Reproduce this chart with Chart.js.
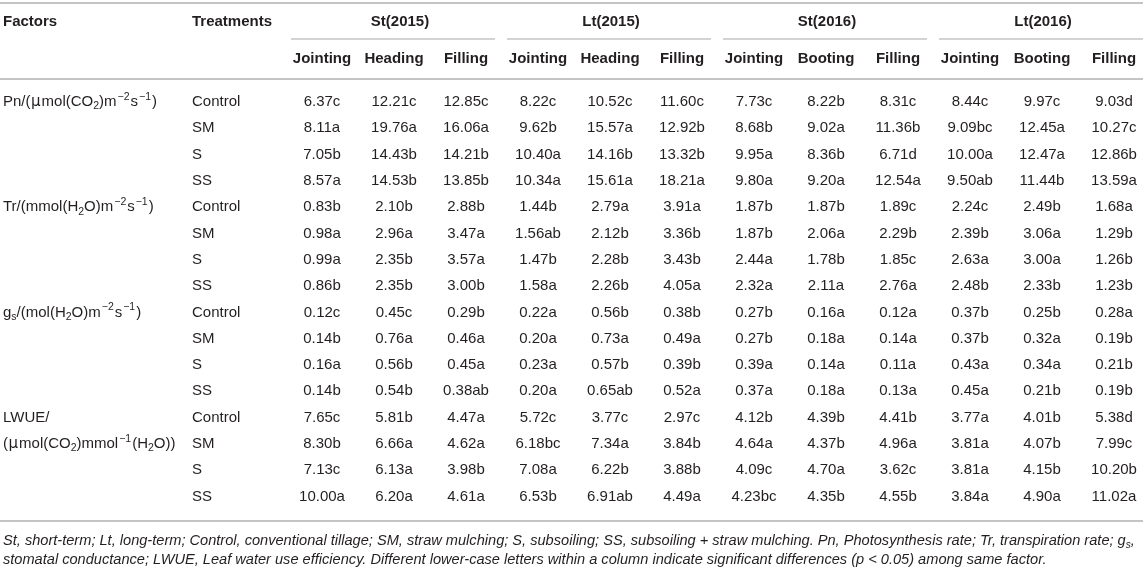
<!DOCTYPE html>
<html><head><meta charset="utf-8">
<script src="https://cdn.jsdelivr.net/npm/chart.js@4"></script>
<style>html,body{margin:0;padding:0;background:#fff}#wrap{width:1143px;height:575px;position:relative}</style>
</head><body><div id="wrap"><canvas id="c"></canvas></div>
<script>
// ---------- data ----------
const groups = ["St(2015)", "Lt(2015)", "St(2016)", "Lt(2016)"];
const stages = ["Jointing","Heading","Filling","Jointing","Heading","Filling","Jointing","Booting","Filling","Jointing","Booting","Filling"];
const treatments = ["Control", "SM", "S", "SS"];
const factorLabels = [
  ["Pn/(μmol(CO_{2})m^{−2}s^{−1})"],
  ["Tr/(mmol(H_{2}O)m^{−2}s^{−1})"],
  ["g_{s}/(mol(H_{2}O)m^{−2}s^{−1})"],
  ["LWUE/", "(μmol(CO_{2})mmol^{−1}(H_{2}O))"]
];
const pn = [
  ["6.37c","12.21c","12.85c","8.22c","10.52c","11.60c","7.73c","8.22b","8.31c","8.44c","9.97c","9.03d"],
  ["8.11a","19.76a","16.06a","9.62b","15.57a","12.92b","8.68b","9.02a","11.36b","9.09bc","12.45a","10.27c"],
  ["7.05b","14.43b","14.21b","10.40a","14.16b","13.32b","9.95a","8.36b","6.71d","10.00a","12.47a","12.86b"],
  ["8.57a","14.53b","13.85b","10.34a","15.61a","18.21a","9.80a","9.20a","12.54a","9.50ab","11.44b","13.59a"]
];
const tr = [
  ["0.83b","2.10b","2.88b","1.44b","2.79a","3.91a","1.87b","1.87b","1.89c","2.24c","2.49b","1.68a"],
  ["0.98a","2.96a","3.47a","1.56ab","2.12b","3.36b","1.87b","2.06a","2.29b","2.39b","3.06a","1.29b"],
  ["0.99a","2.35b","3.57a","1.47b","2.28b","3.43b","2.44a","1.78b","1.85c","2.63a","3.00a","1.26b"],
  ["0.86b","2.35b","3.00b","1.58a","2.26b","4.05a","2.32a","2.11a","2.76a","2.48b","2.33b","1.23b"]
];
const gs = [
  ["0.12c","0.45c","0.29b","0.22a","0.56b","0.38b","0.27b","0.16a","0.12a","0.37b","0.25b","0.28a"],
  ["0.14b","0.76a","0.46a","0.20a","0.73a","0.49a","0.27b","0.18a","0.14a","0.37b","0.32a","0.19b"],
  ["0.16a","0.56b","0.45a","0.23a","0.57b","0.39b","0.39a","0.14a","0.11a","0.43a","0.34a","0.21b"],
  ["0.14b","0.54b","0.38ab","0.20a","0.65ab","0.52a","0.37a","0.18a","0.13a","0.45a","0.21b","0.19b"]
];
const lwue = [
  ["7.65c","5.81b","4.47a","5.72c","3.77c","2.97c","4.12b","4.39b","4.41b","3.77a","4.01b","5.38d"],
  ["8.30b","6.66a","4.62a","6.18bc","7.34a","3.84b","4.64a","4.37b","4.96a","3.81a","4.07b","7.99c"],
  ["7.13c","6.13a","3.98b","7.08a","6.22b","3.88b","4.09c","4.70a","3.62c","3.81a","4.15b","10.20b"],
  ["10.00a","6.20a","4.61a","6.53b","6.91ab","4.49a","4.23bc","4.35b","4.55b","3.84a","4.90a","11.02a"]
];
const notes = [
  "St, short-term; Lt, long-term; Control, conventional tillage; SM, straw mulching; S, subsoiling; SS, subsoiling + straw mulching. Pn, Photosynthesis rate; Tr, transpiration rate; g_{s},",
  "stomatal conductance; LWUE, Leaf water use efficiency. Different lower-case letters within a column indicate significant differences (p < 0.05) among same factor."
];

// ---------- style / layout ----------
const FONT = "'Liberation Sans', Arial, Helvetica, sans-serif";
const MUFONT = "'DejaVu Sans', 'Liberation Sans', sans-serif";
const TEXT = "#231f20";
const RULE = "#c4c4c4";
const L = { factorX: 3, treatX: 192, topLine: 3, groupRow: 22, groupLine: 39, stageRow: 59, headLine: 79, bottomLine: 521, note1: 541, note2: 560 };

const factorData = [pn, tr, gs, lwue];
const datasets = factorData.map((tbl, f) => ({
  label: factorLabels[f].join(' '),
  data: tbl.flatMap((row, t) => row.map((v, c) => ({ x: c, y: f * 4 + t, v }))),
  pointRadius: 0, pointHoverRadius: 0, showLine: false
}));

function parseRich(s) {
  const segs = []; let i = 0; let buf = '';
  const flush = () => { if (buf) { segs.push({ t: buf, m: 'n' }); buf = ''; } };
  while (i < s.length) {
    if ((s[i] === '_' || s[i] === '^') && s[i + 1] === '{') {
      flush();
      const end = s.indexOf('}', i);
      segs.push({ t: s.slice(i + 2, end), m: s[i] === '_' ? 'sub' : 'sup' });
      i = end + 1;
    } else if (s[i] === 'μ') {
      flush(); segs.push({ t: 'μ', m: 'mu' }); i++;
    } else { buf += s[i]; i++; }
  }
  flush();
  return segs;
}
function drawRich(ctx, s, x, y, align, size, weight, style) {
  const segs = parseRich(s);
  const small = Math.round(size * 0.7 * 10) / 10;
  const fnt = (m) => {
    const st = style || 'normal', wt = weight || 'normal';
    if (m === 'mu') return `${st} ${wt} ${size}px ${MUFONT}`;
    return `${st} ${wt} ${m === 'n' ? size : small}px ${FONT}`;
  };
  const padFor = (m) => (m === 'sup' ? [1, 1] : m === 'mu' ? [0.5, 1] : [0, 0]);
  let w = 0;
  segs.forEach(sg => {
    ctx.font = fnt(sg.m);
    const p = size >= 15 ? padFor(sg.m) : [0, 0];
    sg.p = p; sg.w = ctx.measureText(sg.t).width; w += sg.w + p[0] + p[1];
  });
  let cx = align === 'center' ? x - w / 2 : align === 'right' ? x - w : x;
  ctx.textAlign = 'left'; ctx.textBaseline = 'middle'; ctx.fillStyle = TEXT;
  segs.forEach(sg => {
    ctx.font = fnt(sg.m);
    const dy = sg.m === 'sub' ? size * 0.3 : sg.m === 'sup' ? -size * 0.33 : sg.m === 'mu' ? 0.5 : 0;
    cx += sg.p[0];
    ctx.fillText(sg.t, cx, y + dy);
    cx += sg.w + sg.p[1];
  });
}

const tablePlugin = {
  id: 'table',
  beforeDraw(chart) {
    const { ctx, width, height } = chart;
    ctx.save(); ctx.fillStyle = '#fff'; ctx.fillRect(0, 0, width, height); ctx.restore();
  },
  afterDatasetsDraw(chart) {
    const { ctx, width } = chart;
    const xs = chart.scales.x, ys = chart.scales.y;
    ctx.save();
    const hline = (x1, x2, yy, lw) => {
      ctx.strokeStyle = RULE; ctx.lineWidth = lw || 1.6;
      ctx.beginPath(); ctx.moveTo(Math.max(0, x1), yy); ctx.lineTo(Math.min(width, x2), yy); ctx.stroke();
    };
    hline(0, width, L.topLine, 2);
    hline(0, width, L.headLine, 2);
    hline(0, width, L.bottomLine, 2);
    groups.forEach((g, gi) => {
      const a = xs.getPixelForValue(gi * 3), b = xs.getPixelForValue(gi * 3 + 2), m = xs.getPixelForValue(gi * 3 + 1);
      hline(a - 31, b + 29, L.groupLine, 1.6);
      drawRich(ctx, g, m + (gi === 0 ? 6 : 1), L.groupRow, 'center', 15, 'bold');
    });
    drawRich(ctx, 'Factors', L.factorX, L.groupRow, 'left', 15, 'bold');
    drawRich(ctx, 'Treatments', L.treatX, L.groupRow, 'left', 15, 'bold');
    stages.forEach((s, c) => drawRich(ctx, s, xs.getPixelForValue(c), L.stageRow, 'center', 15, 'bold'));
    factorLabels.forEach((lines, f) => {
      lines.forEach((ln, k) => drawRich(ctx, ln, L.factorX, ys.getPixelForValue(f * 4 + k), 'left', 15));
      treatments.forEach((t, ti) => drawRich(ctx, t, L.treatX, ys.getPixelForValue(f * 4 + ti), 'left', 15));
    });
    chart.data.datasets.forEach((ds, di) => {
      const meta = chart.getDatasetMeta(di);
      meta.data.forEach((pt, i) => drawRich(ctx, ds.data[i].v, pt.x, pt.y, 'center', 15));
    });
    drawRich(ctx, notes[0], L.factorX, L.note1, 'left', 14.6, 'normal', 'italic');
    drawRich(ctx, notes[1], L.factorX, L.note2, 'left', 14.6, 'normal', 'italic');
    ctx.restore();
  }
};

new Chart(document.getElementById('c'), {
  type: 'scatter',
  data: { datasets },
  options: {
    responsive: true, maintainAspectRatio: false, animation: false,
    layout: { padding: { left: 322, right: 29, top: 102, bottom: 78.5 } },
    scales: {
      x: { type: 'linear', min: 0, max: 11, display: false },
      y: { type: 'linear', min: 0, max: 15, reverse: true, display: false }
    },
    plugins: { legend: { display: false }, tooltip: { enabled: false } }
  },
  plugins: [tablePlugin]
});
</script>
</body></html>
